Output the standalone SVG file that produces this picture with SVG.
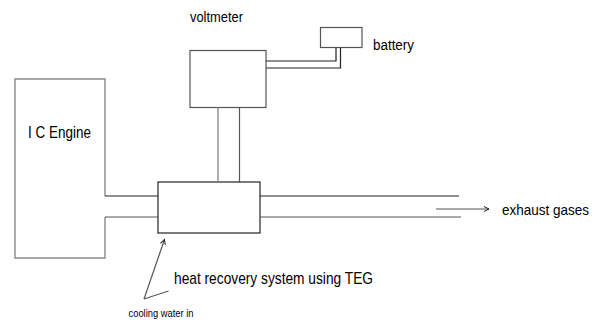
<svg xmlns="http://www.w3.org/2000/svg" width="600" height="323" viewBox="0 0 600 323">
<style>
text{font-family:"Liberation Sans",Arial,sans-serif;fill:#000}
.ln{fill:none;stroke:#222;stroke-width:1.2}
.gr{fill:none;stroke:#8a8a8a;stroke-width:1.4}
.mid{fill:none;stroke:#555;stroke-width:1.2}
</style>
<defs>
<marker id="ah" markerWidth="8" markerHeight="8" refX="6" refY="4" orient="auto" markerUnits="userSpaceOnUse">
<path d="M1,1.5 L6,4 L1,6.5" fill="none" stroke="#222" stroke-width="1"/>
</marker>
</defs>
<rect width="600" height="323" fill="#fff"/>
<g id="engine">
<path class="gr" d="M105,196 V79 H15 V258 H105 V217"/>
<text x="28" y="137.5" font-size="16.5" textLength="63" lengthAdjust="spacingAndGlyphs">I C Engine</text>
</g>
<g id="teg">
<rect class="ln" x="158" y="182" width="102" height="51"/>
</g>
<g id="voltmeter">
<rect class="mid" x="190" y="50.5" width="76" height="57"/>
<text x="190" y="22" font-size="15.5" textLength="53" lengthAdjust="spacingAndGlyphs">voltmeter</text>
</g>
<g id="battery">
<rect class="mid" x="320.5" y="27.5" width="41.5" height="20"/>
<text x="373" y="50" font-size="15.5" textLength="41" lengthAdjust="spacingAndGlyphs">battery</text>
</g>
<g id="connectors">
<line class="ln" x1="105" y1="196" x2="158" y2="196"/>
<line class="mid" x1="105" y1="217" x2="158" y2="217"/>
<line class="ln" x1="260" y1="196" x2="459" y2="196"/>
<line class="mid" x1="260" y1="217" x2="461" y2="217"/>
<line class="gr" x1="218" y1="107.5" x2="218" y2="182"/>
<line class="mid" x1="239.5" y1="107.5" x2="239.5" y2="182"/>
<path class="ln" d="M266,61 H336 V47.5"/>
<path class="ln" d="M266,68 H340.5 V47.5"/>
<line class="mid" x1="436" y1="209" x2="489" y2="209" marker-end="url(#ah)"/>
<line class="mid" x1="144" y1="299" x2="164.5" y2="239.5" marker-end="url(#ah)"/>
<line class="mid" x1="144" y1="299" x2="168.5" y2="291"/>
</g>
<text x="502" y="215" font-size="14.5" textLength="87" lengthAdjust="spacingAndGlyphs">exhaust gases</text>
<text x="174" y="283.5" font-size="17" textLength="199" lengthAdjust="spacingAndGlyphs">heat recovery system using TEG</text>
<text x="128.5" y="316.5" font-size="10.5" textLength="65" lengthAdjust="spacingAndGlyphs">cooling water in</text>
</svg>
